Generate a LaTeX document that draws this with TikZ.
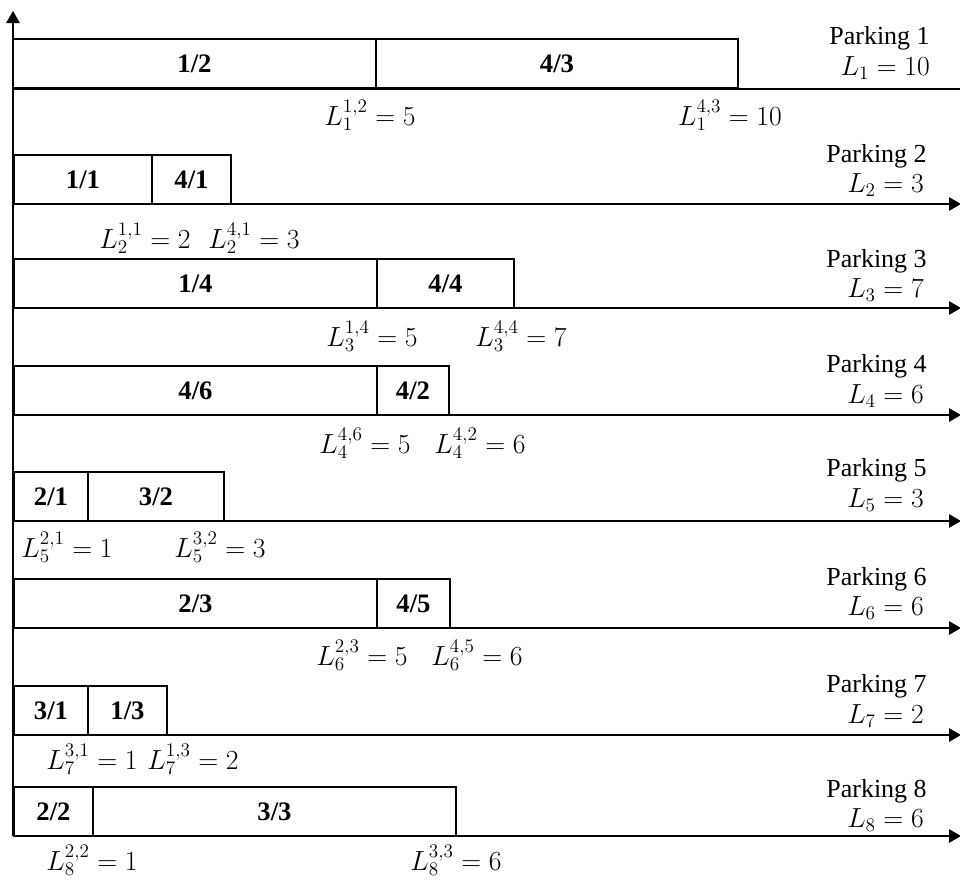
\documentclass[tikz,border=0pt]{standalone}
\usepackage{fontspec}
\setmainfont{Liberation Serif}
\usetikzlibrary{arrows.meta}
\tikzset{
  cell/.style={draw, line width=1.7pt, inner sep=0pt, outer sep=0pt, anchor=north west, minimum height=37pt, font=\fontsize{20}{24}\selectfont\bfseries},
  axisline/.style={line width=1.4pt},
  arr/.style={-{Triangle[length=9pt,width=10pt]}},
  lab/.style={font=\fontsize{19.5}{23}\selectfont, inner sep=0pt},
  ptitle/.style={font=\fontsize{19.5}{23}\selectfont, inner sep=0pt, anchor=east},
}
\begin{document}
\begin{tikzpicture}[x=0.75pt,y=-0.75pt]
\useasboundingbox (0,0) rectangle (960,879);
% vertical axis
\coordinate (o) at (13,836);
\coordinate (top) at (13,11);
\draw[axisline,arr] (o) -- (top);
% horizontal lines
\coordinate (a1) at (13,89); \coordinate (b1) at (960,89);
\draw[axisline] (a1) -- (b1);
\foreach \y/\k in {204/2,308/3,415/4,521/5,628/6,735/7,836/8}{
  \coordinate (a\k) at (13,\y); \coordinate (b\k) at (961,\y);
  \draw[axisline,arr] (a\k) -- (b\k);
}
% Parking 1
\node[cell, minimum width={363*0.75pt}] (c12) at (13,39) {1/2};
\node[cell, minimum width={362*0.75pt}] (c43) at (376,39) {4/3};
\node[lab] (l12) at (370,115) {$L_1^{1,2}=5$};
\node[lab] (l43) at (730,115) {$L_1^{4,3}=10$};
\node[ptitle] (p1) at (930,38) {Parking 1};
\node[ptitle] (q1) at (930,68) {$L_1=10$};
% Parking 2
\node[cell, minimum width={138*0.75pt}] (c11) at (14,155) {1/1};
\node[cell, minimum width={79*0.75pt}] (c41) at (152,155) {4/1};
\node[lab] (l11) at (145,238) {$L_2^{1,1}=2$};
\node[lab] (l41) at (254,238) {$L_2^{4,1}=3$};
\node[ptitle] (p2) at (927,156) {Parking 2};
\node[ptitle] (q2) at (924,185) {$L_2=3$};
% Parking 3
\node[cell, minimum width={363*0.75pt}] (c14) at (14,259) {1/4};
\node[cell, minimum width={137*0.75pt}] (c44) at (377,259) {4/4};
\node[lab] (l14) at (372,336) {$L_3^{1,4}=5$};
\node[lab] (l44) at (521,336) {$L_3^{4,4}=7$};
\node[ptitle] (p3) at (927,261) {Parking 3};
\node[ptitle] (q3) at (924,290) {$L_3=7$};
% Parking 4
\node[cell, minimum width={363*0.75pt}] (c46) at (14,366) {4/6};
\node[cell, minimum width={72*0.75pt}] (c42) at (377,366) {4/2};
\node[lab] (l46) at (365,443) {$L_4^{4,6}=5$};
\node[lab] (l42) at (480,443) {$L_4^{4,2}=6$};
\node[ptitle] (p4) at (927,366) {Parking 4};
\node[ptitle] (q4) at (924,396) {$L_4=6$};
% Parking 5
\node[cell, minimum width={74*0.75pt}] (c21) at (14,472) {2/1};
\node[cell, minimum width={136*0.75pt}] (c32) at (88,472) {3/2};
\node[lab] (l21) at (67,547) {$L_5^{2,1}=1$};
\node[lab] (l32) at (220,547) {$L_5^{3,2}=3$};
\node[ptitle] (p5) at (927,470) {Parking 5};
\node[ptitle] (q5) at (924,500) {$L_5=3$};
% Parking 6
\node[cell, minimum width={363*0.75pt}] (c23) at (14,579) {2/3};
\node[cell, minimum width={73*0.75pt}] (c45) at (377,579) {4/5};
\node[lab] (l23) at (362,655) {$L_6^{2,3}=5$};
\node[lab] (l45) at (477,655) {$L_6^{4,5}=6$};
\node[ptitle] (p6) at (927,579) {Parking 6};
\node[ptitle] (q6) at (924,608) {$L_6=6$};
% Parking 7
\node[cell, minimum width={74*0.75pt}] (c31) at (14,686) {3/1};
\node[cell, minimum width={79*0.75pt}] (c13) at (88,686) {1/3};
\node[lab] (l31) at (92,759) {$L_7^{3,1}=1$};
\node[lab] (l13) at (193,759) {$L_7^{1,3}=2$};
\node[ptitle] (p7) at (927,686) {Parking 7};
\node[ptitle] (q7) at (924,716) {$L_7=2$};
% Parking 8
\node[cell, minimum width={79*0.75pt}] (c22) at (14,787) {2/2};
\node[cell, minimum width={363*0.75pt}] (c33) at (93,787) {3/3};
\node[lab] (l22) at (92,860) {$L_8^{2,2}=1$};
\node[lab] (l33) at (456,860) {$L_8^{3,3}=6$};
\node[ptitle] (p8) at (927,791) {Parking 8};
\node[ptitle] (q8) at (924,820) {$L_8=6$};
\end{tikzpicture}
\end{document}
